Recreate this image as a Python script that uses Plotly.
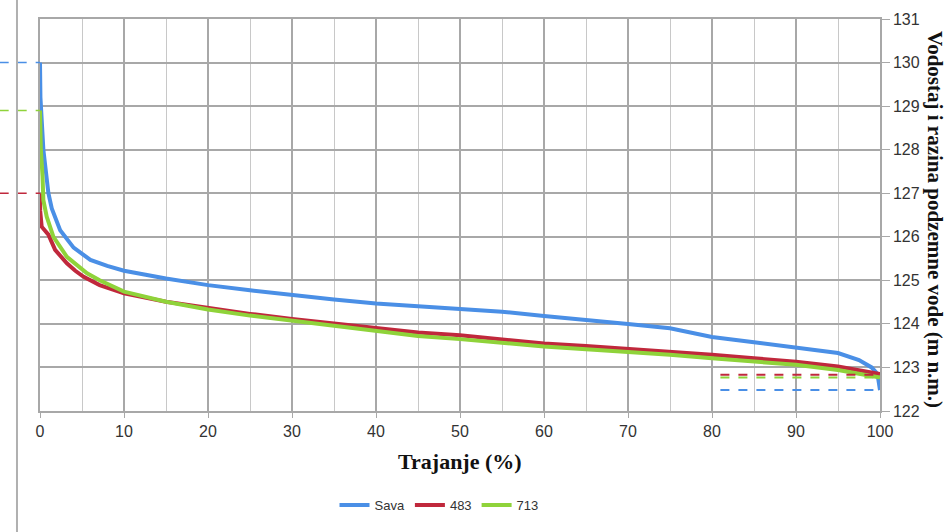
import plotly.graph_objects as go

# Data
sava_x = [0, 0.05, 0.4, 1.0, 1.4, 2.4, 4.0, 6.0, 8, 10, 15, 20, 25, 30, 35, 40, 45, 50, 55, 60,
          65, 70, 75, 78, 80, 85, 90, 95, 97.5, 99, 99.7, 100]
sava_y = [130.0, 129.2, 128.0, 127.0, 126.65, 126.15, 125.75, 125.47, 125.33, 125.22, 125.04,
          124.89, 124.77, 124.66, 124.56, 124.47, 124.41, 124.36, 124.28, 124.18, 124.10, 124.0,
          123.9, 123.78, 123.70, 123.58, 123.46, 123.33, 123.17, 123.0, 122.85, 122.48]

p483_x = [0, 0.02, 0.2, 0.5, 1.0, 1.8, 2.5, 3.2, 4.2, 5.2, 7.1, 10, 15, 20, 25, 30, 35, 40, 45,
          50, 55, 60, 65, 70, 75, 80, 85, 90, 95, 100]
p483_y = [127.0, 126.6, 126.23, 126.15, 126.05, 125.70, 125.55, 125.39, 125.22, 125.08, 124.89,
          124.70, 124.51, 124.36, 124.23, 124.11, 124.0, 123.9, 123.80, 123.74, 123.65, 123.55,
          123.49, 123.43, 123.37, 123.29, 123.21, 123.13, 123.02, 122.85]

p713_x = [0, 0.1, 0.3, 0.4, 0.8, 1.6, 3.2, 5.6, 7.1, 10, 15, 20, 25, 30, 35, 40, 45, 50, 55, 60,
          65, 70, 75, 80, 85, 90, 95, 100]
p713_y = [128.9, 128.0, 127.4, 126.84, 126.46, 126.0, 125.54, 125.16, 125.0, 124.74, 124.51,
          124.33, 124.19, 124.07, 123.96, 123.85, 123.72, 123.65, 123.56, 123.48, 123.42, 123.36,
          123.29, 123.21, 123.14, 123.06, 122.94, 122.77]

names = ["Sava", "483", "713"]
colors = ["#4A8FE6", "#C0283C", "#8FD33A"]
max_levels = [130.0, 127.0, 128.9]     # dashed reference levels (left)
min_levels = [122.48, 122.83, 122.77]  # dashed reference levels (right)
min_start = 81

x_ticks = list(range(0, 101, 10))
y_ticks = list(range(122, 132))

fig = go.Figure()
for xs, ys, n, c in zip([sava_x, p483_x, p713_x], [sava_y, p483_y, p713_y], names, colors):
    fig.add_trace(go.Scatter(x=xs, y=ys, mode="lines", name=n,
                             line=dict(color=c, width=4)))

# right-side dashed minimum lines
for lvl, c in zip(min_levels, colors):
    fig.add_shape(type="line", xref="x", yref="y", x0=min_start, x1=100, y0=lvl, y1=lvl,
                  line=dict(color=c, width=2, dash="dash"))

# left-side dashed maximum lines (extend outside plot)
for lvl, c in zip(max_levels, colors):
    fig.add_shape(type="line", xref="paper", yref="y", x0=-0.048, x1=0, y0=lvl, y1=lvl,
                  line=dict(color=c, width=1.5, dash="dash"))

# gray vertical line at far left
fig.add_shape(type="line", xref="paper", yref="paper", x0=-0.0274, x1=-0.0274,
              y0=-0.31, y1=1.05, line=dict(color="#B0B0B0", width=2))

grid_c = "#A8A8A8"
tick_font = dict(family="Liberation Sans, Arial", size=16, color="#333333")
fig.update_layout(
    width=946, height=532,
    margin=dict(l=40, r=66, t=19, b=121),
    paper_bgcolor="white", plot_bgcolor="white",
    font=dict(family="Liberation Sans, Arial", size=14, color="#333333"),
    showlegend=True,
    legend=dict(orientation="h", x=0.475, xanchor="center", y=-0.24, yanchor="middle",
                font=dict(size=13, color="#333333"), itemwidth=30, tracegroupgap=0),
    xaxis=dict(range=[0, 100], tickvals=x_ticks, showgrid=True, gridcolor=grid_c, gridwidth=1.5,
               ticks="outside", ticklen=5, tickcolor=grid_c, showline=True, mirror=True,
               linecolor=grid_c, linewidth=1.5, zeroline=False, tickfont=tick_font,
               minor=dict(dtick=5, tick0=0, showgrid=True, gridcolor="#C8C8C8", gridwidth=1.2)),
    yaxis=dict(range=[122, 131], tickvals=y_ticks, side="right", showgrid=True, gridcolor=grid_c,
               gridwidth=1.5, ticks="outside", ticklen=8, tickcolor=grid_c, showline=True,
               mirror=True, linecolor=grid_c, linewidth=1.5, zeroline=False, tickfont=tick_font),
    annotations=[
        dict(text="<b>Trajanje (%)</b>", xref="paper", yref="paper", x=0.5, y=-0.13,
             xanchor="center", yanchor="middle", showarrow=False,
             font=dict(family="Liberation Serif, Times New Roman", size=22, color="#111111")),
        dict(text="<b>Vodostaj i razina podzemne vode (m n.m.)</b>", xref="paper", yref="paper",
             x=1.0655, y=0.49, xanchor="center", yanchor="middle", textangle=90,
             showarrow=False,
             font=dict(family="Liberation Serif, Times New Roman", size=21, color="#111111")),
    ],
)

fig.write_html("out.html")
